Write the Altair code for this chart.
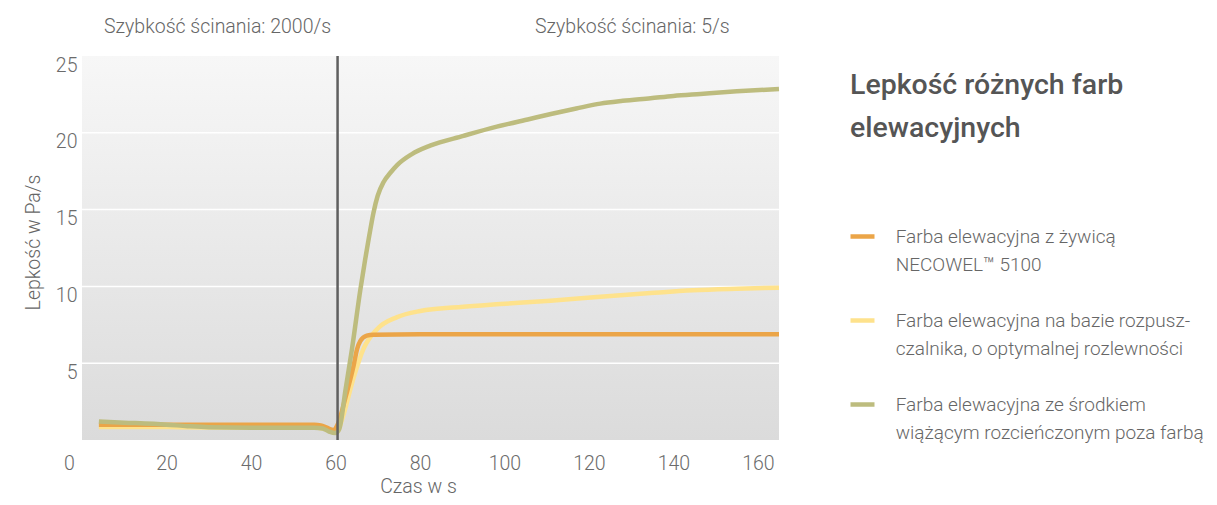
import altair as alt
import pandas as pd

W, H = 697, 384
FONT = "Roboto"
FS = 19.5
LFS = 19

x_ticks = [0, 20, 40, 60, 80, 100, 120, 140, 160]
y_ticks = [0, 5, 10, 15, 20, 25]
grid_values = [5, 10, 15, 20]
shear_switch_x = [60.5]

shear_labels = ["Szybkość ścinania: 2000/s", "Szybkość ścinania: 5/s"]
title_lines = ["Lepkość różnych farb", "elewacyjnych"]

series_names = [
    "Farba elewacyjna z żywicą\nNECOWEL™ 5100",
    "Farba elewacyjna na bazie rozpusz-\nczalnika, o optymalnej rozlewności",
    "Farba elewacyjna ze środkiem\nwiążącym rozcieńczonym poza farbą",
]
series_colors = ["#EBA548", "#FEE28C", "#BDBC7E"]

orange_x = [4, 10, 20, 30, 40, 50, 55, 56.5, 58, 59.5, 60.5, 62.5, 64.3, 65.1, 65.9, 67.4, 69, 80, 100, 120, 140, 165]
orange_y = [1.0, 1.0, 1.0, 1.0, 1.0, 1.0, 1.0, 0.95, 0.8, 0.65, 1.0, 2.9, 4.85, 5.9, 6.45, 6.8, 6.86, 6.88, 6.88, 6.88, 6.88, 6.88]

yellow_x = [4, 10, 20, 30, 40, 50, 55, 57, 59, 60.3, 61.6, 64.2, 66.6, 69.9, 74.6, 80.1, 89.6, 99, 110.9, 122.7, 134.6, 144.7, 155, 165]
yellow_y = [0.85, 0.85, 0.84, 0.82, 0.82, 0.82, 0.82, 0.75, 0.6, 0.5, 1.37, 3.97, 5.92, 7.23, 8.0, 8.4, 8.66, 8.85, 9.07, 9.33, 9.57, 9.75, 9.85, 9.92]

green_x = [4, 10, 20, 25, 30, 40, 50, 55, 57, 58.5, 60, 60.9, 62.4, 63.9, 65.9, 67, 68, 69, 70, 71.4, 73, 74.6, 78, 82.4, 90.3, 98.2, 106, 111, 117, 122.7, 128, 134.6, 140, 146.4, 155, 165]
green_y = [1.2, 1.13, 1.0, 0.9, 0.83, 0.8, 0.8, 0.8, 0.75, 0.55, 0.45, 0.72, 3.3, 5.9, 9.8, 11.7, 13.3, 14.8, 15.9, 16.8, 17.4, 17.9, 18.6, 19.16, 19.8, 20.4, 20.9, 21.22, 21.58, 21.9, 22.08, 22.25, 22.4, 22.53, 22.7, 22.85]


def series_df(name, xs, ys):
    return pd.DataFrame({"t": xs, "v": ys, "farba": name})


x_scale = alt.Scale(domain=[0, 165], nice=False, zero=False)
y_scale = alt.Scale(domain=[0, 25], nice=False)
color_scale = alt.Scale(domain=series_names, range=series_colors)

x_axis = alt.Axis(
    values=x_ticks, title="Czas w s", grid=False, ticks=False, tickSize=0, domain=False,
    labelPadding=14, labelBaseline="top", labelFlush=False,
    labelOffset={"condition": {"test": "datum.value === 0", "value": -13}, "value": 0},
    titleX=336, titleY=46, titleBaseline="middle", titleAlign="center",
)
y_axis = alt.Axis(
    values=y_ticks, title="Lepkość w Pa/s", grid=False, ticks=False, tickSize=0, domain=False,
    labelPadding=5, labelBaseline="top", labelAlign="right",
    labelExpr="datum.value === 0 ? '' : datum.label",
    titleX=-49, titleY=186, titleAngle=270, titleBaseline="middle", titleAlign="center",
)

X = alt.X("t:Q", scale=x_scale, axis=x_axis)
Y = alt.Y("v:Q", scale=y_scale, axis=y_axis)

legend = alt.Legend(
    title=None, orient="none", legendX=766, legendY=166, padding=0,
    symbolType="stroke", symbolSize=576, symbolStrokeWidth=4.5,
    labelOffset=18.7, labelExpr="split(datum.label, '\\n')", labelLimit=500,
    labelFontSize=LFS, labelColor="#666666", labelFont=FONT, labelFontWeight=300,
    rowPadding=31,
)
C = alt.Color("farba:N", scale=color_scale, legend=legend)

one = pd.DataFrame({"k": [0]})

bg = alt.Chart(one).mark_rect(
    color=alt.Gradient(
        gradient="linear",
        stops=[alt.GradientStop(color="#f7f7f7", offset=0), alt.GradientStop(color="#dbdbdb", offset=1)],
        x1=0, x2=0, y1=0, y2=1,
    )
).encode(x=alt.value(0), x2=alt.value(W), y=alt.value(0), y2=alt.value(H))

grid = alt.Chart(pd.DataFrame({"v": grid_values})).mark_rule(color="white", strokeWidth=1.5).encode(y=Y)


def line_layer(df):
    return alt.Chart(df).mark_line(strokeWidth=4.5, interpolate="monotone", strokeCap="butt").encode(
        x=X, y=Y, color=C
    )


yellow = line_layer(series_df(series_names[1], yellow_x, yellow_y))
orange = line_layer(series_df(series_names[0], orange_x, orange_y))
green = line_layer(series_df(series_names[2], green_x, green_y))

vline = alt.Chart(pd.DataFrame({"t": shear_switch_x})).mark_rule(color="#5f5f5f", strokeWidth=2.5).encode(x=X)

top_left = alt.Chart(one).mark_text(
    text=shear_labels[0], x=22, y=-29, align="left", baseline="middle",
    fontSize=FS, font=FONT, fontWeight=300, color="#666666",
)
top_right = alt.Chart(one).mark_text(
    text=shear_labels[1], x=453, y=-29, align="left", baseline="middle",
    fontSize=FS, font=FONT, fontWeight=300, color="#666666",
)
title = alt.Chart(one).mark_text(
    text=title_lines, x=768, y=29, align="left", baseline="middle", lineHeight=43,
    fontSize=28.5, font=FONT, fontWeight=500, color="#555555",
)

chart = alt.layer(bg, grid, yellow, orange, green, vline, top_left, top_right, title).properties(
    width=W, height=H,
    autosize=alt.AutoSizeParams(type="none"),
    padding={"left": 74, "top": 48, "right": 430, "bottom": 57},
).configure(
    view=alt.ViewConfig(stroke=None),
    axis=alt.AxisConfig(
        labelFont=FONT, labelFontSize=FS, labelColor="#6b6b6b", labelFontWeight=300,
        titleFont=FONT, titleFontSize=FS, titleColor="#666666", titleFontWeight=300,
    ),
    style={"guide-label": {"lineHeight": 28.3}},
)

chart.save("out.html", embed_options={"renderer": "svg", "actions": False})
